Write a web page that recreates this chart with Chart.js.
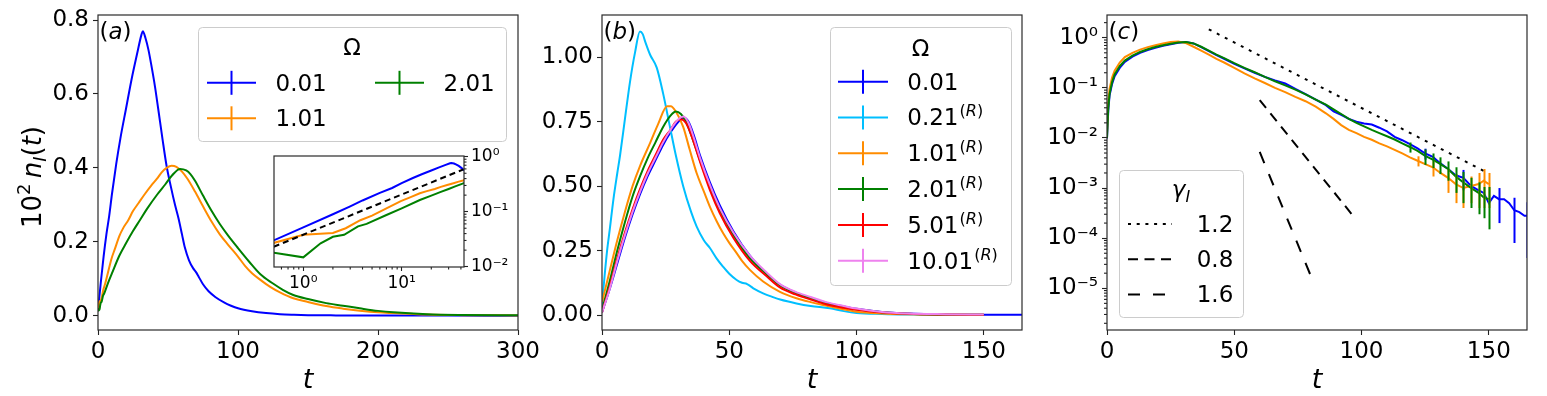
<!DOCTYPE html>
<html><head><meta charset="utf-8">
<script src="https://cdn.jsdelivr.net/npm/chart.js@4.4.1/dist/chart.umd.min.js"></script>
<style>
html,body{margin:0;padding:0;background:#fff;overflow:hidden;}
#wrap{position:relative;width:1547px;height:396px;overflow:hidden;font-family:"DejaVu Sans",sans-serif;color:#000;}
canvas{position:absolute;left:0;top:-20px;}
#ov{position:absolute;left:0;top:0;}
.t{position:absolute;white-space:nowrap;line-height:1;font-family:"DejaVu Sans",sans-serif;}
.sup{font-size:16px;position:relative;top:-9px;margin-left:1px;}
</style></head>
<body><div id="wrap">
<canvas id="cA" width="1547" height="416"></canvas>
<canvas id="cB" width="1547" height="416"></canvas>
<canvas id="cC" width="1547" height="416"></canvas>
<canvas id="cI" width="1547" height="416"></canvas>
<svg id="ov" width="1547" height="396" xmlns="http://www.w3.org/2000/svg"></svg>
</div>
<script>
// ---------------- data : panel (a) ----------------
const tBlueA = [0,0.5,1,2,3,4,6,8,10,13,16,20,24,28,31,32,34,36,38,40.7,43,46,49,52,55,57.4,60,62,65,68,70,72,75,79,84,90,95,100,110,120,130,140,150,170,200,250,300];
const blueA  = [0.012,0.03,0.052,0.09,0.125,0.16,0.22,0.27,0.33,0.41,0.48,0.56,0.64,0.71,0.76,0.77,0.75,0.72,0.68,0.62,0.56,0.48,0.405,0.35,0.3,0.265,0.22,0.185,0.15,0.128,0.118,0.105,0.085,0.066,0.05,0.036,0.027,0.02,0.012,0.007,0.004,0.0025,0.0015,0.0008,0.0004,0.0002,0.0001];
const tOrangeA = [0,0.5,1,2,2.7,3.8,5,7,9.8,12,15.3,18,21.7,25,29,33.6,38,42,45.5,49,52.6,56,60,64,69.3,75,81.2,87,93.1,100,105,110,116,123,130,139.5,150,163,175,187,200,211,235,260,300];
const orangeA  = [0.012,0.027,0.038,0.041,0.05,0.07,0.085,0.115,0.156,0.18,0.216,0.237,0.259,0.283,0.305,0.33,0.352,0.37,0.388,0.4,0.406,0.403,0.39,0.37,0.336,0.296,0.254,0.22,0.191,0.16,0.135,0.115,0.097,0.078,0.063,0.047,0.037,0.026,0.019,0.0135,0.009,0.007,0.003,0.0015,0.0008];
const tGreenA = [0,0.5,1,1.5,2,2.6,3.6,4.4,7,10,15.3,20,25,30,35,42.3,48,53,58.6,63,66,69.3,75,81.2,87,93.1,100,108,116,125,132,139.5,150,163,175,187,200,211,235,260,300];
const greenA  = [0.012,0.018,0.0148,0.0266,0.035,0.038,0.054,0.06,0.087,0.115,0.163,0.196,0.229,0.259,0.289,0.328,0.355,0.38,0.397,0.393,0.383,0.365,0.325,0.283,0.248,0.216,0.183,0.146,0.112,0.087,0.07,0.056,0.045,0.034,0.027,0.02,0.013,0.009,0.004,0.002,0.001];
const tDashIn = [0.5,42.5];
const dashIn  = [0.023,0.59];

// ---------------- data : panel (b) ----------------
const tGridB = [0,3,6,9,12,15,18,21,24,27,29,31,33,35,38.5,42.4,46.3,51.6,58.1,64.7,69.9,76,82,88,95,100,110,120,135,150];
const greenB = [0.02,0.13,0.25,0.36,0.46,0.54,0.61,0.67,0.73,0.775,0.79,0.78,0.75,0.7,0.6,0.495,0.405,0.31,0.22,0.158,0.115,0.085,0.065,0.045,0.03,0.022,0.011,0.005,0.002,0.001];
const redB   = [0.01,0.11,0.22,0.32,0.41,0.49,0.56,0.62,0.68,0.72,0.75,0.76,0.745,0.7,0.595,0.485,0.395,0.3,0.21,0.15,0.107,0.08,0.06,0.042,0.028,0.02,0.01,0.005,0.002,0.001];
const tPinkB = [0,3,6,9,12,15,18,21,24,27,30,32,34,36,38.5,42.4,46.3,51.6,58.1,64.7,69.9,76,82,88,95,100,110,120,135,150];
const pinkB  = [0.01,0.1,0.21,0.31,0.4,0.48,0.55,0.61,0.67,0.72,0.76,0.77,0.745,0.69,0.61,0.505,0.415,0.32,0.23,0.165,0.12,0.09,0.07,0.05,0.035,0.025,0.012,0.006,0.003,0.0015];
const tBlueB = [0,3,6,9,12,15,18,21,24,27,30,32,34,36,38.5,42.4,46.3,51.6,58.1,64.7,69.9,76,82,88,95,100,110,120,135,150,165];
const blueB  = [0.01,0.1,0.2,0.3,0.39,0.47,0.54,0.6,0.66,0.71,0.75,0.765,0.75,0.7,0.62,0.515,0.425,0.325,0.23,0.16,0.118,0.088,0.066,0.048,0.033,0.024,0.012,0.006,0.002,0.001,0.0005];
const tCyanB = [0,1,2,3.1,4.5,6,7.1,9,11,13,14.9,16,17,18.9,21.5,24,26.7,29,31.9,35,37.2,40,42.4,45,47.6,50,52.9,55,57,60,63.3,67,70,76.4,82,89.5,95,100,110,120,135,150];
const cyanB  = [0.04,0.15,0.25,0.336,0.45,0.55,0.62,0.76,0.905,1.02,1.1,1.09,1.06,1.01,0.96,0.86,0.73,0.62,0.5,0.4,0.343,0.29,0.26,0.22,0.187,0.16,0.136,0.125,0.12,0.1,0.084,0.07,0.06,0.045,0.035,0.026,0.015,0.008,0.004,0.002,0.001,0.0005];
const tOrangeB = [0,3,6,9,12,15,19,22,25.6,27,29,31.9,34.5,37.2,40,42.4,45,47.6,50,52.9,55,58.1,63.3,69.9,76.4,82,86.9,92,100,110,120,135,150];
const orangeB  = [0.05,0.17,0.29,0.4,0.5,0.58,0.67,0.74,0.81,0.81,0.79,0.73,0.64,0.55,0.48,0.42,0.365,0.317,0.28,0.24,0.21,0.175,0.13,0.09,0.065,0.05,0.039,0.028,0.013,0.006,0.003,0.0015,0.0008];

// ---------------- data : panel (c) ----------------
const tC = [0,0.5,1,2,3,5,7,10,13,16,19,22,25,28,31,34,37,40,43,46,50,54,58,62,66,70,74,78,82,86,89,92,95,98,101,104,107,110,113,116,119,122,125,128,131,134,137,140,143,146,148,150];
const blueC = [0.0098,0.035,0.07,0.12,0.17,0.25,0.33,0.42,0.5,0.57,0.63,0.69,0.74,0.79,0.82,0.77,0.65,0.54,0.45,0.38,0.3,0.245,0.2,0.165,0.14,0.122,0.095,0.075,0.058,0.045,0.034,0.029,0.024,0.021,0.0195,0.0185,0.016,0.0135,0.0105,0.009,0.0075,0.0062,0.0049,0.0042,0.0031,0.0024,0.0018,0.0016,0.0011,0.0009,0.0008,0.0005];
const tBlueTailC = [152,154,156,158,160,162,164,165];
const blueTailC  = [0.0007,0.0006,0.0006,0.0005,0.00036,0.00033,0.00028,0.00028];
const orangeC = [0.012,0.05,0.095,0.16,0.22,0.32,0.41,0.5,0.58,0.65,0.71,0.77,0.82,0.84,0.78,0.66,0.55,0.46,0.38,0.32,0.25,0.195,0.155,0.125,0.1,0.082,0.066,0.054,0.042,0.031,0.024,0.018,0.0145,0.0125,0.0105,0.0092,0.0078,0.0068,0.0058,0.0049,0.0041,0.0035,0.003,0.0026,0.002,0.0016,0.0012,0.001,0.0011,0.0012,0.0014,0.0012];
const greenC = [0.01,0.04,0.075,0.13,0.185,0.27,0.35,0.44,0.52,0.59,0.65,0.71,0.76,0.8,0.82,0.77,0.66,0.55,0.46,0.39,0.31,0.25,0.205,0.165,0.135,0.112,0.092,0.074,0.058,0.046,0.037,0.03,0.024,0.02,0.017,0.0145,0.0125,0.0108,0.0093,0.0078,0.0066,0.0055,0.0044,0.0037,0.003,0.0024,0.0017,0.0013,0.001,0.0008,0.00065,0.0006];
const errBlueT = [125,140,154,160,165];
const errBlueV = [0.0012,0.0007,0.0004,0.00028,0.00024];
const errOrangeT = [122,128,134,137,140,143,146,148,150];
const errOrangeV = [0.0008,0.0009,0.0008,0.0007,0.0006,0.0006,0.0008,0.001,0.0008];
const errGreenT = [119,125,128,131,134,137,140,143,146,148,150];
const errGreenV = [0.0015,0.0015,0.0012,0.0011,0.001,0.0009,0.0008,0.0006,0.0005,0.0004,0.00045];
const tDot = [40,150],   dotV = [1.47,0.00195];
const tDash = [60,97.6], dashV = [0.0568,0.000244];
const tLong = [60,80],   longV = [0.00525,0.000018];

// ---------------- ticks ----------------
const xTicksA = [0,100,200,300], xLabelsA = ['0','100','200','300'];
const yTicksA = [0,0.2,0.4,0.6,0.8], yLabelsA = ['0.0','0.2','0.4','0.6','0.8'];
const xTicksB = [0,50,100,150], xLabelsB = ['0','50','100','150'];
const yTicksB = [0,0.25,0.5,0.75,1.0], yLabelsB = ['0.00','0.25','0.50','0.75','1.00'];
const yTicksC = [1e-5,1e-4,1e-3,1e-2,1e-1,1], yLabelsC = ['10\u207B\u2075','10\u207B\u2074','10\u207B\u00B3','10\u207B\u00B2','10\u207B\u00B9','10\u2070'];
const xTicksIn = [1,10], xLabelsIn = ['10\u2070','10\u00B9'];
const yTicksIn = [0.01,0.1,1], yLabelsIn = ['10\u207B\u00B2','10\u207B\u00B9','10\u2070'];

// ---------------- helpers ----------------
const OFF = 20, W = 1547, H = 416;
const F23 = {family:'DejaVu Sans', size:23, lineHeight:1.2};
const F17 = {family:'DejaVu Sans', size:17, lineHeight:1.2};
const xy = (ts, vs) => ts.map((t,i)=>({x:t, y:vs[i]}));
const SMOOTH = {cubicInterpolationMode:'monotone'};
function ds(pts, color, extra){
  return Object.assign({data:pts, borderColor:color, backgroundColor:color, borderWidth:2,
    pointRadius:0, pointHoverRadius:0, fill:false, tension:0}, extra||{});
}
function axis(type,pos,min,max,ticks,labels,size,font,tickLen,pad){
  return {type, position:pos, min, max,
    afterFit(s){ if(s.isHorizontal()) s.height=size; else s.width=size; },
    afterBuildTicks(s){ s.ticks = ticks.map(v=>({value:v})); },
    ticks:{autoSkip:false, maxRotation:0, minRotation:0, padding:pad, color:'#000', font,
      callback:(v,i)=>labels[i]},
    grid:{display:true, drawOnChartArea:false, drawTicks:true, tickLength:tickLen, tickColor:'#222', tickWidth:1.1},
    border:{display:false}
  };
}
function decadeMinors(lo, hi){ const out=[]; for(let e=lo;e<=hi;e++){ for(let k=2;k<=9;k++) out.push(k*Math.pow(10,e)); } return out; }

const framePlugin = {
  id:'frame',
  beforeDraw(chart, args, o){
    if(!o.bg) return;
    const a=chart.chartArea, c=chart.ctx;
    c.save(); c.fillStyle='#fff'; c.fillRect(a.left,a.top,a.right-a.left,a.bottom-a.top); c.restore();
  },
  afterDatasetsDraw(chart){
    const a=chart.chartArea, c=chart.ctx, sx=chart.scales.x, sy=chart.scales.y;
    c.save(); c.beginPath(); c.rect(a.left,a.top,a.right-a.left,a.bottom-a.top); c.clip();
    chart.data.datasets.forEach(d=>{
      if(!d.errT) return;
      c.strokeStyle=d.borderColor; c.lineWidth=2;
      d.errT.forEach((t,i)=>{
        const p=d.data.find(q=>q.x===t); if(!p) return;
        const e=d.errV[i];
        const lo=Math.max(p.y-e, sy.min), hi=p.y+e;
        const px=Math.round(sx.getPixelForValue(t))+0.5;
        c.beginPath(); c.moveTo(px, sy.getPixelForValue(hi)); c.lineTo(px, sy.getPixelForValue(lo)); c.stroke();
      });
    });
    c.restore();
  },
  afterDraw(chart, args, o){
    const a=chart.chartArea, c=chart.ctx;
    c.save(); c.strokeStyle='#222'; c.lineWidth=1.1;
    (o.minor||[]).forEach(m=>{
      const s=chart.scales[m.axis];
      m.values.forEach(v=>{
        if(v<=s.min || v>=s.max) return;
        const p=s.getPixelForValue(v);
        c.beginPath();
        if(m.side==='bottom'){ c.moveTo(p,a.bottom); c.lineTo(p,a.bottom+m.len); }
        else if(m.side==='left'){ c.moveTo(a.left,p); c.lineTo(a.left-m.len,p); }
        else { c.moveTo(a.right,p); c.lineTo(a.right+m.len,p); }
        c.stroke();
      });
    });
    c.strokeStyle='#2a2a2a'; c.lineWidth=1.2;
    c.strokeRect(a.left, a.top, a.right-a.left, a.bottom-a.top);
    c.restore();
  }
};
const base = {responsive:false, animation:false, devicePixelRatio:1, events:[]};
function opts(pad, scales, frame){
  return Object.assign({}, base, {layout:{padding:pad}, scales,
    plugins:{legend:{display:false}, tooltip:{enabled:false}, frame:frame||{}}});
}

// ---------------- panel (a) ----------------
new Chart(document.getElementById('cA'), {
  type:'line',
  data:{datasets:[
    ds(xy(tBlueA,blueA),'#0000ff',Object.assign({order:3},SMOOTH)),
    ds(xy(tOrangeA,orangeA),'#ff8c00',Object.assign({order:2},SMOOTH)),
    ds(xy(tGreenA,greenA),'#008000',Object.assign({order:1},SMOOTH))
  ]},
  options:opts({left:0,top:15+OFF,right:W-518,bottom:0},{
    x:axis('linear','bottom',0,300,xTicksA,xLabelsA,66,F23,5,3),
    y:axis('linear','left',-0.03875,0.81375,yTicksA,yLabelsA,98,F23,5,4)
  }),
  plugins:[framePlugin]
});

// ---------------- inset of (a) ----------------
const inRange = p => p.x>0.3 && p.x<60;
new Chart(document.getElementById('cI'), {
  type:'line',
  data:{datasets:[
    ds(xy(tBlueA,blueA).filter(inRange),'#0000ff',{order:4}),
    ds(xy(tOrangeA,orangeA).filter(inRange),'#ff8c00',{order:3}),
    ds(xy(tGreenA,greenA).filter(inRange),'#008000',{order:2}),
    ds(xy(tDashIn,dashIn),'#000000',{order:1,borderDash:[6,4]})
  ]},
  options:opts({left:274,top:156+OFF,right:W-464-60,bottom:H-(267+OFF)-30},{
    x:axis('logarithmic','bottom',0.504,43,xTicksIn,xLabelsIn,30,F17,4,2),
    y:axis('logarithmic','right',0.00987,1.03,yTicksIn,yLabelsIn,60,F17,4,3)
  },{bg:true, minor:[
    {axis:'x',side:'bottom',len:2.5,values:decadeMinors(-1,1)},
    {axis:'y',side:'right',len:2.5,values:decadeMinors(-2,-1)}
  ]}),
  plugins:[framePlugin]
});

// ---------------- panel (b) ----------------
new Chart(document.getElementById('cB'), {
  type:'line',
  data:{datasets:[
    ds(xy(tBlueB,blueB),'#0000ff',Object.assign({order:6},SMOOTH)),
    ds(xy(tCyanB,cyanB),'#00bfff',Object.assign({order:5},SMOOTH)),
    ds(xy(tOrangeB,orangeB),'#ff8c00',Object.assign({order:4},SMOOTH)),
    ds(xy(tGridB,greenB),'#008000',Object.assign({order:3},SMOOTH)),
    ds(xy(tGridB,redB),'#ff0000',Object.assign({order:2},SMOOTH)),
    ds(xy(tPinkB,pinkB),'#ee82ee',Object.assign({order:1},SMOOTH))
  ]},
  options:opts({left:602-98,top:15+OFF,right:W-1022,bottom:0},{
    x:axis('linear','bottom',0,165,xTicksB,xLabelsB,66,F23,5,3),
    y:axis('linear','left',-0.0582,1.1642,yTicksB,yLabelsB,98,F23,5,4)
  }),
  plugins:[framePlugin]
});

// ---------------- panel (c) ----------------
new Chart(document.getElementById('cC'), {
  type:'line',
  data:{datasets:[
    ds(xy(tC.concat(tBlueTailC), blueC.concat(blueTailC)),'#0000ff',{order:6, errT:errBlueT, errV:errBlueV}),
    ds(xy(tC,orangeC),'#ff8c00',{order:5, errT:errOrangeT, errV:errOrangeV}),
    ds(xy(tC,greenC),'#008000',{order:4, errT:errGreenT, errV:errGreenV}),
    ds(xy(tDot,dotV),'#000000',{order:3, borderDash:[3,6]}),
    ds(xy(tDash,dashV),'#000000',{order:2, borderDash:[10,7]}),
    ds(xy(tLong,longV),'#000000',{order:1, borderDash:[12,12]})
  ]},
  options:opts({left:1107-98,top:15+OFF,right:W-1527,bottom:0},{
    x:axis('linear','bottom',0,165,xTicksB,xLabelsB,66,F23,5,3),
    y:axis('logarithmic','left',1.47e-6,2.84,yTicksC,yLabelsC,98,F23,5,4)
  },{minor:[{axis:'y',side:'left',len:3,values:decadeMinors(-6,0)}]}),
  plugins:[framePlugin]
});

// ---------------- overlays: legends & titles ----------------
const NS='http://www.w3.org/2000/svg', ov=document.getElementById('ov'), wrap=document.getElementById('wrap');
function sv(tag, attrs){ const e=document.createElementNS(NS,tag); for(const k in attrs) e.setAttribute(k,attrs[k]); ov.appendChild(e); return e; }
function box(x,y,w,h){ sv('rect',{x:x+0.5,y:y+0.5,width:w,height:h,rx:4,ry:4,fill:'#fff','fill-opacity':0.8,stroke:'#cccccc','stroke-width':1}); }
function mark(x1,x2,y,color,dash){
  sv('line',{x1,y1:y,x2,y2:y,stroke:color,'stroke-width':2,'stroke-dasharray':dash||'none'});
  if(!dash) sv('line',{x1:(x1+x2)/2,y1:y-12,x2:(x1+x2)/2,y2:y+12,stroke:color,'stroke-width':2});
}
function txt(html,x,top,size,opt){
  const d=document.createElement('div'); d.className='t'; d.innerHTML=html;
  d.style.fontSize=size+'px'; d.style.top=top+'px';
  if(opt && opt.center){ d.style.left=(x-100)+'px'; d.style.width='200px'; d.style.textAlign='center'; }
  else d.style.left=x+'px';
  if(opt && opt.style) d.style.cssText+=opt.style;
  wrap.appendChild(d); return d;
}
const dy = -11.1; // digit-centre -> div top for 23px text

// legend (a)
const legA = [['0.01','#0000ff',207,275.5,82.8],['1.01','#ff8c00',207,275.5,118.3],['2.01','#008000',375,443.5,82.8]];
box(198,27,308,114);
txt('\u03A9',352,47.3+dy,23,{center:true});
legA.forEach(([lab,col,mx,tx,y])=>{ mark(mx,mx+49,y,col); txt(lab,tx,y+dy,23); });

// legend (b)
const legB = [['0.01','#0000ff',''],['0.21','#00bfff','R'],['1.01','#ff8c00','R'],['2.01','#008000','R'],['5.01','#ff0000','R'],['10.01','#ee82ee','R']];
box(830,27,181,258);
txt('\u03A9',920.5,48.3+dy,23,{center:true});
legB.forEach(([lab,col,r],i)=>{
  const y=81.7+i*35.8; mark(838,888,y,col);
  txt(lab+(r?'<span class="sup">(<i>R</i>)</span>':''),907.3,y+dy,23);
});

// legend (c)
const legC = [['1.2','3,5.7'],['0.8','10,6.5'],['1.6','12,13']];
box(1119,170,124,147);
txt('<i>\u03B3</i><span style="font-size:16px;position:relative;top:5px"><i>I</i></span>',1181,177.5,23,{center:true});
legC.forEach(([lab,dash],i)=>{ const y=224+i*35.2; mark(1128,1172,y,'#000',dash); txt(lab,1196.7,y+dy,23); });

// panel labels
txt('(<i>a</i>)',99.5,19.5,23);
txt('(<i>b</i>)',603.5,19.5,23);
txt('(<i>c</i>)',1108.5,19.5,23);
// x titles
[308,812,1317].forEach(cx=>txt('<i>t</i>',cx,365.2,27,{center:true}));
// y title
txt('10<span style="font-size:18px;position:relative;top:-11px">2</span>\u2009<i>n</i><span style="font-size:18px;position:relative;top:5px"><i>I</i></span>(<i>t</i>)',0,0,26,
  {style:'left:31.5px;top:177px;transform:translate(-50%,-50%) rotate(-90deg);'});
</script>
</body></html>
